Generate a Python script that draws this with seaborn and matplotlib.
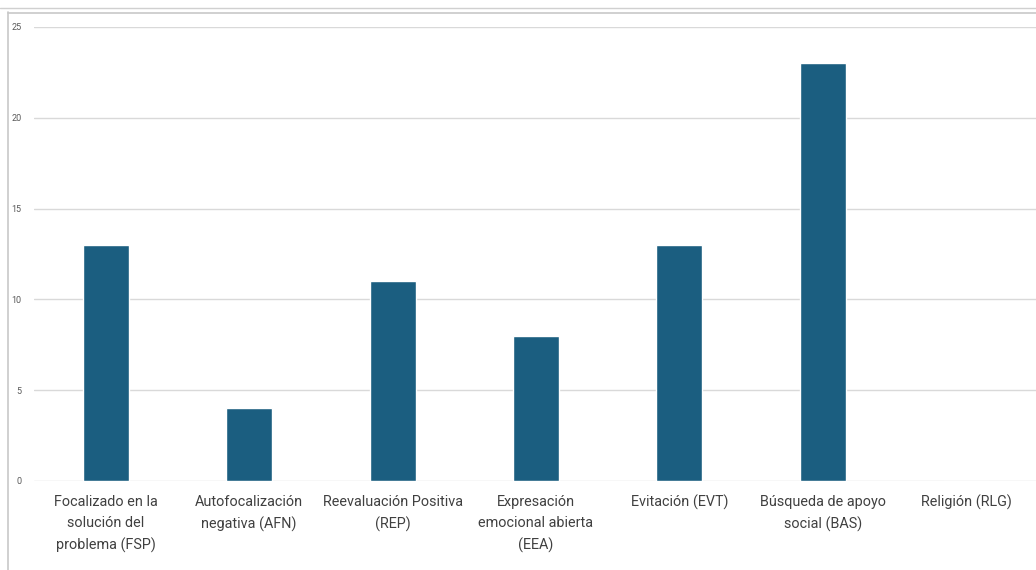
import matplotlib
matplotlib.use("Agg")
import matplotlib.pyplot as plt
import seaborn as sns
import pandas as pd
from matplotlib.lines import Line2D

categorias = [
    "Focalizado en la\nsolución del\nproblema (FSP)",
    "Autofocalización\nnegativa (AFN)",
    "Reevaluación Positiva\n(REP)",
    "Expresación\nemocional abierta\n(EEA)",
    "Evitación (EVT)",
    "Búsqueda de apoyo\nsocial (BAS)",
    "Religión (RLG)",
]
valores = [13, 4, 11, 8, 13, 23, 0]
marcas_y = [0, 5, 10, 15, 20, 25]

sns.set_theme(style="white")
plt.rcParams["font.family"] = ["Roboto", "DejaVu Sans"]

df = pd.DataFrame({"estrategia": categorias, "n": valores})

fig = plt.figure(figsize=(10.36, 5.70), dpi=100)
ax = fig.add_axes([34 / 1036, 89 / 570, 1004 / 1036, 454 / 570])

sns.barplot(data=df, x="estrategia", y="n", color="#1B5E80", width=0.32,
            saturation=1, ax=ax, zorder=3)

ax.set_ylim(0, 25)
ax.set_xlim(-0.5, len(categorias) - 0.5)
ax.set_yticks(marcas_y)
ax.set_yticklabels([str(v) for v in marcas_y], fontsize=6.5, color="#595959")
ax.tick_params(axis="y", length=0, pad=9)
ax.tick_params(axis="x", length=0, pad=10)
for lbl in ax.get_xticklabels():
    lbl.set_fontsize(10.4)
    lbl.set_color("#404040")
    lbl.set_linespacing(1.65)
    lbl.set_verticalalignment("top")
ax.set_xlabel("")
ax.set_ylabel("")
ax.grid(axis="y", color="#d9d9d9", linewidth=1.0, zorder=0)
for s in ax.spines.values():
    s.set_visible(False)

# outer chart frame
fig.add_artist(Line2D([8 / 1036, 8 / 1036], [0, 1 - 12 / 570],
                      transform=fig.transFigure, color="#c8c8c8", lw=1.2))
fig.add_artist(Line2D([8 / 1036, 1], [1 - 13 / 570, 1 - 13 / 570],
                      transform=fig.transFigure, color="#c8c8c8", lw=1.2))
fig.add_artist(Line2D([0, 1], [1 - 8 / 570, 1 - 8 / 570],
                      transform=fig.transFigure, color="#d0d0d0", lw=1.0))

fig.savefig("out.png", dpi=100)
